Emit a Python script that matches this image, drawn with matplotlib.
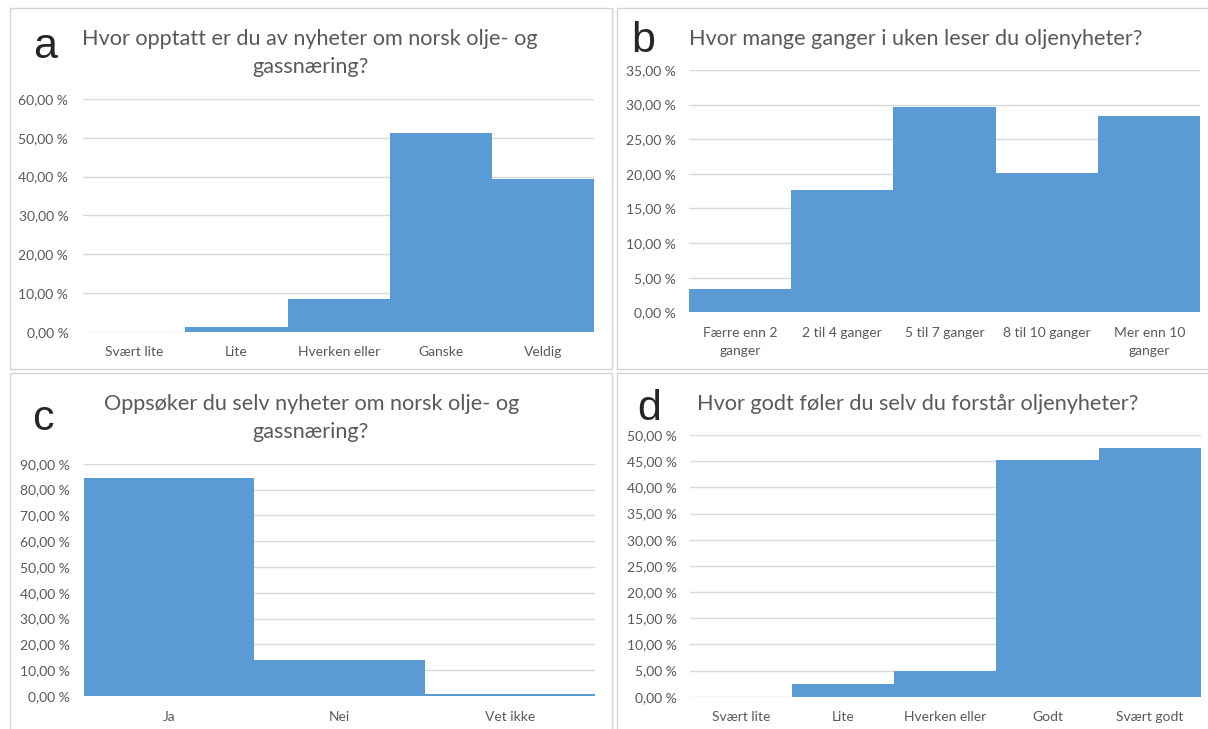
import matplotlib
matplotlib.use("Agg")
import matplotlib.pyplot as plt
from matplotlib.patches import Rectangle
from matplotlib.ticker import FuncFormatter, MultipleLocator

# Survey answers (share of respondents, %)
cats_a = ["Svært lite", "Lite", "Hverken eller", "Ganske", "Veldig"]
vals_a = [0.0, 1.2, 8.5, 51.2, 39.3]

cats_b = ["Færre enn 2\nganger", "2 til 4 ganger", "5 til 7 ganger",
          "8 til 10 ganger", "Mer enn 10\nganger"]
vals_b = [3.3, 17.7, 29.7, 20.1, 28.4]

cats_c = ["Ja", "Nei", "Vet ikke"]
vals_c = [84.6, 13.9, 0.8]

cats_d = ["Svært lite", "Lite", "Hverken eller", "Godt", "Svært godt"]
vals_d = [0.0, 2.5, 4.9, 45.2, 47.6]

titles = [
    "Hvor opptatt er du av nyheter om norsk olje- og\ngassnæring?",
    "Hvor mange ganger i uken leser du oljenyheter?",
    "Oppsøker du selv nyheter om norsk olje- og\ngassnæring?",
    "Hvor godt føler du selv du forstår oljenyheter?",
]

W, H = 1208, 729
BAR = "#5B9BD5"
GRID = "#D9D9D9"
TXT = "#595959"
FONT = ["Lato", "DejaVu Sans"]
TICK_SIZE = 10
TITLE_SIZE = 15.6

fig = plt.figure(figsize=(W / 100, H / 100), dpi=100)
fig.patch.set_facecolor("white")


def fx(px):
    return px / W


def fy(py):
    return 1 - py / H


# panel frames (pixel boxes: x0, y0, x1, y1)
frames = [(10, 8, 612, 369), (617, 8, 1225, 369),
          (10, 373, 612, 740), (617, 373, 1225, 740)]
for x0, y0, x1, y1 in frames:
    fig.patches.append(Rectangle((fx(x0), fy(y1)), fx(x1 - x0), (y1 - y0) / H,
                                 transform=fig.transFigure, fill=False,
                                 edgecolor="#D4D4D4", linewidth=1.0))

pct = FuncFormatter(lambda v, p: f"{v:.2f}".replace(".", ",") + " %")


def panel(box, cats, vals, ymax, step, ypad):
    left, right, y0, ytop = box
    ax = fig.add_axes([fx(left), fy(y0), fx(right - left), (y0 - ytop) / H])
    x = range(len(cats))
    ax.bar(x, vals, width=1.0, color=BAR, zorder=2)
    ax.set_xlim(-0.5, len(cats) - 0.5)
    ax.set_ylim(0, ymax)
    ax.yaxis.set_major_locator(MultipleLocator(step))
    ax.yaxis.set_major_formatter(pct)
    ax.set_xticks(list(x))
    ax.set_xticklabels(cats, linespacing=1.6)
    for s in ax.spines.values():
        s.set_visible(False)
    ax.grid(axis="y", color=GRID, linewidth=1.0, zorder=0)
    ax.set_axisbelow(True)
    ax.tick_params(axis="both", length=0, labelsize=TICK_SIZE, labelcolor=TXT)
    ax.tick_params(axis="y", pad=ypad)
    ax.tick_params(axis="x", pad=10.5)
    for lab in ax.get_xticklabels() + ax.get_yticklabels():
        lab.set_family(FONT)
    return ax


panel((82.9, 594.4, 331.7, 99.0), cats_a, vals_a, 60, 10, 10.5)
panel((688.8, 1200.4, 312.3, 70.0), cats_b, vals_b, 35, 5, 9.2)
panel((83.6, 595.2, 696.0, 463.7), cats_c, vals_c, 90, 10, 10.0)
panel((689.6, 1201.0, 696.7, 435.0), cats_d, vals_d, 50, 5, 9.2)

# chart titles
kw = dict(ha="center", va="baseline", fontsize=TITLE_SIZE, color=TXT, family=FONT)
fig.text(fx(310), fy(45), titles[0].split("\n")[0], **kw)
fig.text(fx(311), fy(73), titles[0].split("\n")[1], **kw)
fig.text(fx(916), fy(45), titles[1], **kw)
fig.text(fx(312), fy(410), titles[2].split("\n")[0], **kw)
fig.text(fx(311), fy(438), titles[2].split("\n")[1], **kw)
fig.text(fx(918), fy(410), titles[3], **kw)

# panel letters
for letter, (px, py) in zip("abcd", [(45, 58), (643, 52), (43, 430), (649, 420)]):
    fig.text(fx(px), fy(py), letter, ha="center", va="baseline",
             fontsize=31, color="#262626", family=["Liberation Sans", "DejaVu Sans"])

fig.savefig("out.png", dpi=100, facecolor="white")
